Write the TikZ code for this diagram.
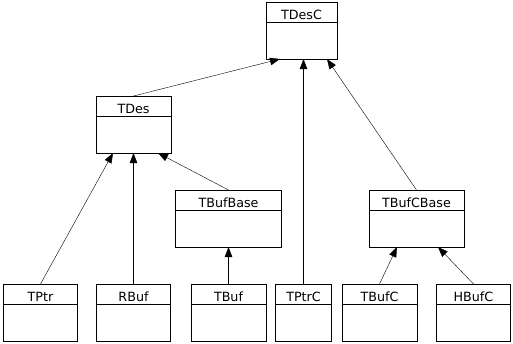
\documentclass[tikz,border=0pt]{standalone}
\usepackage{fontspec}
\setmainfont{DejaVu Sans}
\usepackage{tikz}
\usetikzlibrary{
        arrows.meta,
        positioning
    }
\tikzset{>={Triangle[length=10pt,width=7.5pt]},line width=1pt}
\tikzset{
    classhead/.style={draw, outer sep=0pt, inner sep=0pt, minimum width=#1,
                      minimum height=20pt, text height=16.5pt, text depth=1.5pt,
                      font=\fontsize{12.7pt}{15pt}\selectfont},
    classhead/.default=75pt,
    classbody/.style={draw, outer sep=0pt, inner sep=0pt, minimum width=#1,
                      minimum height=37pt},
    classbody/.default=75pt
}

\begin{document}
\begin{tikzpicture}[x=1pt,y=-1pt]
            \useasboundingbox (0,0) rectangle (513,343);
            % top level
            \node[classhead=71pt] (tdesc) at (301.5,12) {TDesC};
            \node[classbody=71pt] (tdescb) [below=0pt of tdesc] {};
            % second level
            \node[classhead] (tdes) at (133.5,106) {TDes};
            \node[classbody] (tdesb) [below=0pt of tdes] {};
            \node[classhead=106pt] (tbufbase) at (228.5,200) {TBufBase};
            \node[classbody=106pt] (tbufbaseb) [below=0pt of tbufbase] {};
            \node[classhead=95pt] (tbufcbase) at (416.5,200) {TBufCBase};
            \node[classbody=95pt] (tbufcbaseb) [below=0pt of tbufcbase] {};
            % bottom row
            \node[classhead=74pt] (tptr) at (40.5,294) {TPtr};
            \node[classbody=74pt] (tptrb) [below=0pt of tptr] {};
            \node[classhead=74pt] (rbuf) at (133.5,294) {RBuf};
            \node[classbody=74pt] (rbufb) [below=0pt of rbuf] {};
            \node[classhead] (tbuf) at (228.5,294) {TBuf};
            \node[classbody] (tbufb) [below=0pt of tbuf] {};
            \node[classhead=56pt] (tptrc) at (303.5,294) {TPtrC};
            \node[classbody=56pt] (tptrcb) [below=0pt of tptrc] {};
            \node[classhead] (tbufc) at (379.5,294) {TBufC};
            \node[classbody] (tbufcb) [below=0pt of tbufc] {};
            \node[classhead=74pt] (hbufc) at (473.5,294) {HBufC};
            \node[classbody=74pt] (hbufcb) [below=0pt of hbufc] {};
            \path[->]
                (tdes.north)      edge ([xshift=-21.5pt]tdescb.south)
                (tptrc.north)     edge ([xshift=2pt]tdescb.south)
                (tbufcbase.north) edge ([xshift=25.5pt]tdescb.south)
                (tptr.north)      edge ([xshift=-20.5pt]tdesb.south)
                (rbuf.north)      edge (tdesb.south)
                (tbufbase.north)  edge ([xshift=24.5pt]tdesb.south)
                (tbuf.north)      edge (tbufbaseb.south)
                (tbufc.north)     edge ([xshift=-19.5pt]tbufcbaseb.south)
                (hbufc.north)     edge ([xshift=21.5pt]tbufcbaseb.south)
                ;
        \end{tikzpicture}
\end{document}
